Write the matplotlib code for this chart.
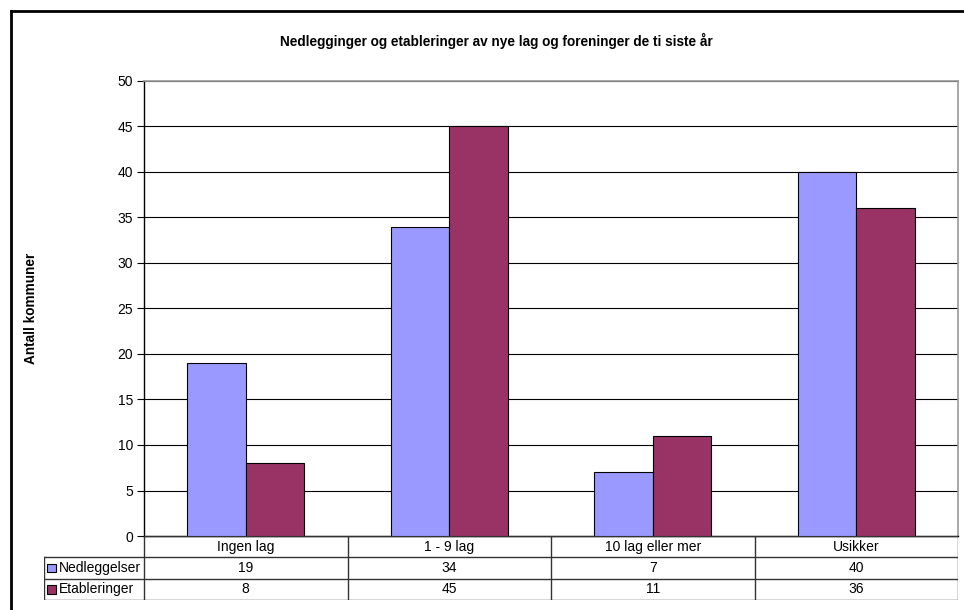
import numpy as np
import matplotlib.pyplot as plt
from matplotlib.patches import Rectangle

plt.rcParams['font.family'] = ['Liberation Sans', 'DejaVu Sans']

categories = ['Ingen lag', '1 - 9 lag', '10 lag eller mer', 'Usikker']
series_names = ['Nedleggelser', 'Etableringer']
nedleggelser = [19, 34, 7, 40]
etableringer = [8, 45, 11, 36]
colors = ['#9999FF', '#993366']

W, H = 964, 610
fig = plt.figure(figsize=(W / 100, H / 100), dpi=100)


def px(x0, y0, x1, y1):
    # pixel box (top-left origin) -> figure fraction
    return [x0 / W, 1 - y1 / H, (x1 - x0) / W, (y1 - y0) / H]


# outer chart frame (cut off at right and bottom)
fig.add_artist(plt.Line2D([11 / W, 11 / W], [0, 1 - 11 / H], color='black', lw=2))
fig.add_artist(plt.Line2D([11 / W, 1], [1 - 11 / H, 1 - 11 / H], color='black', lw=2))

left, right, top, bottom = 144, 958, 81, 536
ax = fig.add_axes(px(left, top, right, bottom))

x = np.arange(len(categories))
bw = 0.2875
ax.bar(x - bw / 2, nedleggelser, bw, color=colors[0], edgecolor='black', lw=0.8, zorder=3)
ax.bar(x + bw / 2, etableringer, bw, color=colors[1], edgecolor='black', lw=0.8, zorder=3)

ax.set_xlim(-0.5, len(categories) - 0.5)
ax.set_ylim(0, 50)
ax.set_yticks(range(0, 51, 5))
ax.set_xticks([])
ax.yaxis.grid(True, color='black', lw=0.8, zorder=0)
ax.tick_params(axis='y', direction='out', length=5, width=0.8, labelsize=10, pad=3)
for s in ['top', 'right']:
    ax.spines[s].set_color('#999999')
    ax.spines[s].set_linewidth(1.2)
for s in ['left', 'bottom']:
    ax.spines[s].set_color('black')
    ax.spines[s].set_linewidth(1)

fig.text(496 / W, 1 - 41 / H, 'Nedlegginger og etableringer av nye lag og foreninger de ti siste år',
         ha='center', va='center', fontsize=9.8, fontweight='bold')
fig.text(31 / W, 1 - 308 / H, 'Antall kommuner', rotation=90, ha='center', va='center',
         fontsize=9.8, fontweight='bold')

# data table under the plot
tleft, tbottom = 44, 600
lab_w = (left - tleft) / ((right - left) / len(categories))
tax = fig.add_axes(px(tleft, bottom, right, tbottom))
tax.set_xlim(-0.5 - lab_w, len(categories) - 0.5)
tax.set_ylim(0, 3)
tax.axis('off')

lc = '#333333'
# horizontal lines
tax.plot([-0.5, len(categories) - 0.5], [3, 3], color=lc, lw=1)
for yy in [0, 1, 2]:
    tax.plot([-0.5 - lab_w, len(categories) - 0.5], [yy, yy], color=lc, lw=1)
# vertical lines
tax.plot([-0.5 - lab_w, -0.5 - lab_w], [0, 2], color=lc, lw=1)
for i in range(len(categories) + 1):
    tax.plot([i - 0.5, i - 0.5], [0, 3], color=lc, lw=1)

for i, c in enumerate(categories):
    tax.text(i, 2.5, c, ha='center', va='center', fontsize=10)
    tax.text(i, 1.5, str(nedleggelser[i]), ha='center', va='center', fontsize=10)
    tax.text(i, 0.5, str(etableringer[i]), ha='center', va='center', fontsize=10)

unit = len(categories) / (right - left) * 1.0
for r, (name, col) in enumerate(zip(series_names, colors)):
    yc = 1.5 - r
    sx = -0.5 - lab_w + 3 * unit
    sw = 9 * unit
    tax.add_patch(Rectangle((sx, yc - 0.2), sw, 0.4, facecolor=col, edgecolor='black', lw=0.8))
    tax.text(sx + sw + 2.5 * unit, yc, name, ha='left', va='center', fontsize=10)

fig.savefig('out.png', dpi=100)
